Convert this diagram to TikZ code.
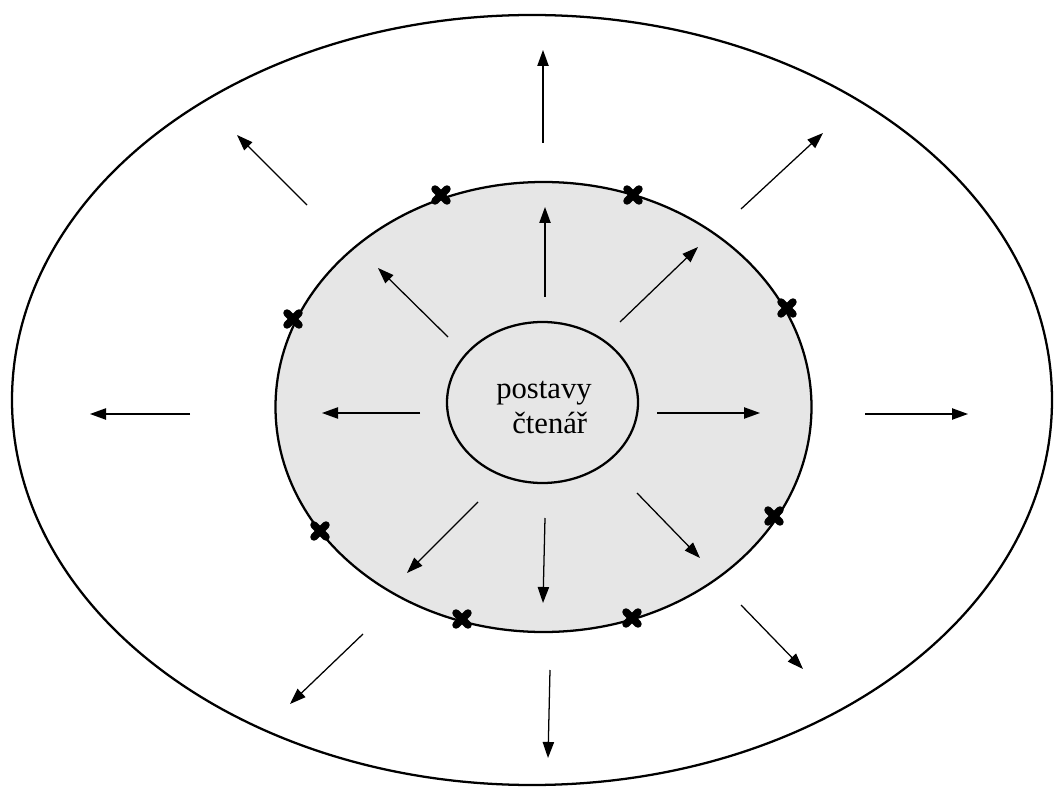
\documentclass[tikz,border=0pt]{standalone}
\usepackage{fontspec}
\setmainfont{Liberation Serif}
\usetikzlibrary{arrows.meta}
\definecolor{ringgrey}{HTML}{E6E6E6}
\tikzset{
  ring/.style={draw=black, line width=1.7pt},
  ray/.style={line width=0.95pt, -{Triangle[length=12pt,width=8.5pt]}},
  xmark/.style={line width=5.6pt, line cap=round},
  lbl/.style={anchor=base west, inner sep=0pt, font=\fontsize{23}{27}\selectfont},
}
\newcommand{\crossat}[2]{%
  \draw[xmark] (#1-6,#2-6) -- (#1+6,#2+6);
  \draw[xmark] (#1-6,#2+6) -- (#1+6,#2-6);}
\begin{document}
\begin{tikzpicture}[x=0.75pt,y=-0.75pt]
\useasboundingbox (0,0) rectangle (1054,795);
% ellipses
\draw[ring] (532,400) ellipse [x radius=520, y radius=385];
\draw[ring, fill=ringgrey] (543.5,407) ellipse [x radius=268, y radius=225];
\draw[ring, fill=ringgrey] (542.5,402.5) ellipse [x radius=95.5, y radius=80.5];
\node[lbl] (l1) at (496,398) {postavy};
\node[lbl] (l2) at (512,433) {čtenář};
% crosses on the grey ring
\crossat{441}{195}
\crossat{633}{195}
\crossat{293}{319}
\crossat{787}{308}
\crossat{320}{531}
\crossat{774}{516}
\crossat{462}{619}
\crossat{632}{618}
% inner ray coordinates
\coordinate (iu0) at (545,297);  \coordinate (iu1) at (545,207);
\coordinate (iul0) at (448,337); \coordinate (iul1) at (378,268);
\coordinate (iur0) at (620,322); \coordinate (iur1) at (698,247);
\coordinate (il0) at (420,413);  \coordinate (il1) at (322,413);
\coordinate (ir0) at (657,413);  \coordinate (ir1) at (760,413);
\coordinate (idl0) at (478,502); \coordinate (idl1) at (407,573);
\coordinate (id0) at (545,518);  \coordinate (id1) at (543,603);
\coordinate (idr0) at (637,493); \coordinate (idr1) at (700,558);
% outer ray coordinates
\coordinate (ou0) at (543,143);  \coordinate (ou1) at (543,50);
\coordinate (oul0) at (307,205); \coordinate (oul1) at (237,135);
\coordinate (our0) at (741,209); \coordinate (our1) at (823,133);
\coordinate (ol0) at (190,414);  \coordinate (ol1) at (90,414);
\coordinate (or0) at (865,414);  \coordinate (or1) at (968,414);
\coordinate (odl0) at (363,634); \coordinate (odl1) at (290,704);
\coordinate (od0) at (550,670);  \coordinate (od1) at (548,758);
\coordinate (odr0) at (741,605); \coordinate (odr1) at (803,669);
\foreach \r in {iu,iul,iur,il,ir,idl,id,idr,ou,oul,our,ol,or,odl,od,odr}
  \draw[ray] (\r0) -- (\r1);
\end{tikzpicture}
\end{document}
